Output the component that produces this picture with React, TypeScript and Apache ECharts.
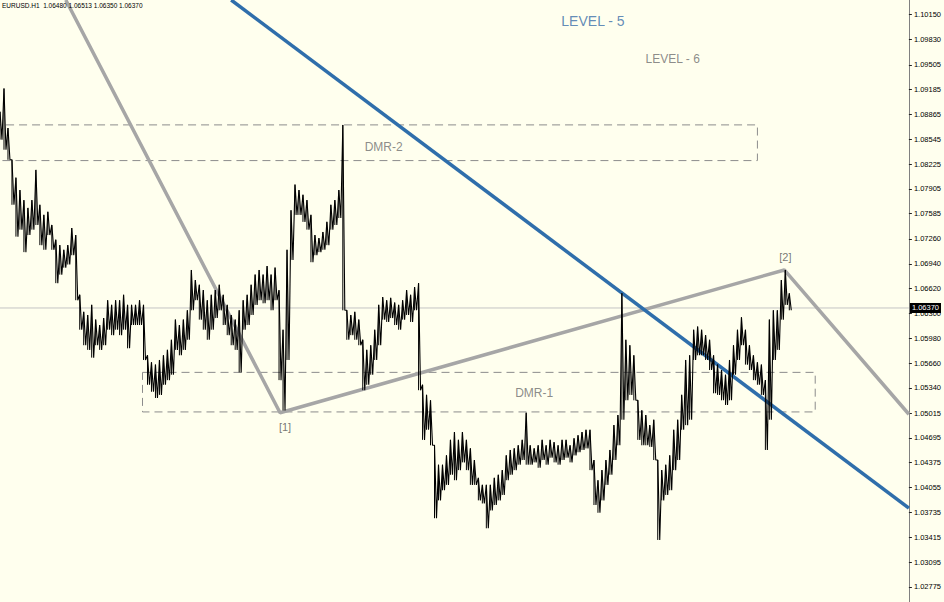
import React, { useEffect, useRef } from 'react';
import * as echarts from 'echarts';

// ---------- data ----------
const HEADER = 'EURUSD.H1  1.06480 1.06513 1.06350 1.06370';
const BAR_STEP = 4; // bar index step between sampled columns

const barHigh = [
  1.0890, 1.0920, 1.0869, 1.0828, 1.0805, 1.0789, 1.0776, 1.0766, 1.0776, 1.0815,
  1.0770, 1.0757, 1.0761, 1.0744, 1.0725, 1.0718, 1.0712, 1.0718, 1.0740, 1.0731,
  1.0654, 1.0632, 1.0628, 1.0641, 1.0622, 1.0615, 1.0624, 1.0647, 1.0641, 1.0647,
  1.0647, 1.0654, 1.0641, 1.0641, 1.0641, 1.0647, 1.0641, 1.0576, 1.0567, 1.0564,
  1.0570, 1.0576, 1.0583, 1.0596, 1.0622, 1.0615, 1.0622, 1.0634, 1.0686, 1.0673,
  1.0667, 1.0660, 1.0647, 1.0654, 1.0660, 1.0667, 1.0654, 1.0641, 1.0628, 1.0622,
  1.0634, 1.0647, 1.0654, 1.0667, 1.0680, 1.0686, 1.0680, 1.0691, 1.0680, 1.0689,
  1.0660, 1.0609, 1.0712, 1.0763, 1.0796, 1.0789, 1.0783, 1.0776, 1.0757, 1.0731,
  1.0727, 1.0735, 1.0748, 1.0770, 1.0776, 1.0789, 1.0873, 1.0634, 1.0628, 1.0632,
  1.0622, 1.0596, 1.0583, 1.0589, 1.0609, 1.0641, 1.0651, 1.0647, 1.0650, 1.0644,
  1.0641, 1.0647, 1.0660, 1.0654, 1.0664, 1.0669, 1.0538, 1.0525, 1.0518, 1.0460,
  1.0435, 1.0435, 1.0447, 1.0467, 1.0477, 1.0467, 1.0477, 1.0467, 1.0456, 1.0441,
  1.0418, 1.0409, 1.0409, 1.0409, 1.0418, 1.0422, 1.0428, 1.0447, 1.0454, 1.0456,
  1.0460, 1.0467, 1.0502, 1.0460, 1.0456, 1.0460, 1.0467, 1.0460, 1.0467, 1.0464,
  1.0460, 1.0467, 1.0467, 1.0460, 1.0469, 1.0473, 1.0477, 1.0480, 1.0480, 1.0441,
  1.0415, 1.0428, 1.0441, 1.0454, 1.0486, 1.0499, 1.0656, 1.0596, 1.0589, 1.0576,
  1.0518, 1.0505, 1.0499, 1.0486, 1.0493, 1.0441, 1.0428, 1.0435, 1.0447, 1.0480,
  1.0493, 1.0525, 1.0570, 1.0576, 1.0609, 1.0613, 1.0609, 1.0602, 1.0596, 1.0576,
  1.0564, 1.0557, 1.0551, 1.0570, 1.0589, 1.0609, 1.0625, 1.0609, 1.0589, 1.0576,
  1.0567, 1.0564, 1.0544, 1.0622, 1.0634, 1.0634, 1.0673, 1.0686, 1.0656,
];

const barLow = [
  1.0854, 1.0841, 1.0828, 1.0770, 1.0729, 1.0738, 1.0709, 1.0731, 1.0738, 1.0744,
  1.0718, 1.0712, 1.0731, 1.0712, 1.0669, 1.0680, 1.0689, 1.0693, 1.0705, 1.0647,
  1.0609, 1.0589, 1.0583, 1.0573, 1.0589, 1.0583, 1.0589, 1.0609, 1.0602, 1.0609,
  1.0602, 1.0609, 1.0585, 1.0615, 1.0615, 1.0615, 1.0570, 1.0538, 1.0529, 1.0521,
  1.0525, 1.0538, 1.0544, 1.0551, 1.0583, 1.0576, 1.0583, 1.0596, 1.0634, 1.0647,
  1.0622, 1.0609, 1.0596, 1.0609, 1.0624, 1.0634, 1.0615, 1.0602, 1.0589, 1.0583,
  1.0554, 1.0609, 1.0615, 1.0628, 1.0641, 1.0647, 1.0643, 1.0647, 1.0634, 1.0647,
  1.0544, 1.0505, 1.0570, 1.0699, 1.0757, 1.0757, 1.0748, 1.0738, 1.0696, 1.0705,
  1.0709, 1.0712, 1.0718, 1.0738, 1.0744, 1.0753, 1.0634, 1.0596, 1.0602, 1.0596,
  1.0589, 1.0531, 1.0538, 1.0551, 1.0570, 1.0589, 1.0622, 1.0619, 1.0624, 1.0615,
  1.0609, 1.0622, 1.0628, 1.0619, 1.0634, 1.0531, 1.0467, 1.0480, 1.0460, 1.0366,
  1.0389, 1.0402, 1.0409, 1.0422, 1.0415, 1.0428, 1.0438, 1.0428, 1.0409, 1.0409,
  1.0389, 1.0385, 1.0353, 1.0376, 1.0383, 1.0389, 1.0396, 1.0415, 1.0422, 1.0428,
  1.0435, 1.0441, 1.0435, 1.0435, 1.0438, 1.0431, 1.0441, 1.0435, 1.0444, 1.0438,
  1.0435, 1.0441, 1.0444, 1.0438, 1.0447, 1.0451, 1.0454, 1.0456, 1.0428, 1.0383,
  1.0373, 1.0389, 1.0409, 1.0422, 1.0441, 1.0460, 1.0493, 1.0518, 1.0525, 1.0518,
  1.0467, 1.0460, 1.0460, 1.0458, 1.0441, 1.0338, 1.0389, 1.0396, 1.0402, 1.0428,
  1.0441, 1.0480, 1.0486, 1.0493, 1.0570, 1.0576, 1.0576, 1.0570, 1.0557, 1.0527,
  1.0525, 1.0518, 1.0512, 1.0518, 1.0551, 1.0570, 1.0589, 1.0564, 1.0557, 1.0544,
  1.0538, 1.0525, 1.0454, 1.0493, 1.0570, 1.0583, 1.0622, 1.0641, 1.0634,
];

const priceTicks = [
  1.1015, 1.0983, 1.09505, 1.09185, 1.08865, 1.08545, 1.08225, 1.07905,
  1.07585, 1.0726, 1.0694, 1.0662, 1.063, 1.0598, 1.0566, 1.0534,
  1.05015, 1.04695, 1.04375, 1.04055, 1.03735, 1.03415, 1.03095, 1.02775,
];
const PRICE_MIN = 1.0258;
const PRICE_MAX = 1.1034;
const BAR_AXIS_MAX = 912;
const lastPrice = 1.0637;
const lastPriceText = '1.06370';

// trend lines: [bar index, price]
const grayWave = [[66, 1.1034], [281, 1.0502], [787, 1.0686], [912, 1.05]];
const blueTrend = [[232, 1.1034], [912, 1.0379]];
// zones: [bar from, bar to, top price, bottom price]
const dmr2Zone = [-20, 760, 1.0873, 1.0827];
const dmr1Zone = [143, 818, 1.0554, 1.0503];

const labelTexts = ['LEVEL - 5', 'LEVEL - 6', 'DMR-2', 'DMR-1', '[1]', '[2]'];
const labelBars = [595, 675, 385, 536, 286, 788];
const labelPrices = [1.1007, 1.0958, 1.0845, 1.0527, 1.0483, 1.0703];

// ---------- styles ----------
const labelColors = ['#3A6EA8', '#6E6E6E', '#6E6E6E', '#6E6E6E', '#555555', '#555555'];
const labelSizes = [14, 12, 12, 12, 11, 11];
const FONT = 'Liberation Sans, Arial, sans-serif';

export default function App() {
  const ref = useRef<HTMLDivElement>(null);

  useEffect(() => {
    if (!ref.current) return;
    const chart = echarts.init(ref.current, undefined, { renderer: 'svg' });

    // price trace: each sampled column drawn from its high down to its low
    const trace: number[][] = [];
    barHigh.forEach((h, i) => {
      const x = i * BAR_STEP;
      trace.push([x, h]);
      trace.push([x + BAR_STEP / 2, barLow[i]]);
    });
    const ranges = barHigh.map((h, i) => [i * BAR_STEP, barLow[i], h]);

    const zoneLine = (z: number[], closed: boolean) => {
      const pts = [
        [z[0], z[2]],
        [z[1], z[2]],
        [z[1], z[3]],
        [z[0], z[3]],
      ];
      if (closed) pts.push([z[0], z[2]]);
      return pts;
    };

    chart.setOption({
      animation: false,
      backgroundColor: '#FFFFEE',
      title: {
        text: HEADER,
        left: 2,
        top: 2,
        padding: 0,
        textStyle: { fontSize: 6.5, fontWeight: 'normal', color: '#000', fontFamily: FONT },
      },
      grid: { left: 0, top: 0, right: 32, bottom: 0, containLabel: false },
      xAxis: { type: 'value', min: 0, max: BAR_AXIS_MAX, show: false },
      yAxis: {
        type: 'value',
        position: 'right',
        min: PRICE_MIN,
        max: PRICE_MAX,
        axisLine: { show: true, onZero: false, lineStyle: { color: '#808080', width: 1 } },
        axisTick: { show: true, customValues: priceTicks, length: 3, lineStyle: { color: '#222' } },
        axisLabel: {
          customValues: priceTicks,
          formatter: (v: number) => v.toFixed(5),
          fontSize: 7.5,
          color: '#000',
          margin: 5,
          fontFamily: FONT,
        },
        splitLine: { show: false },
      },
      series: [
        {
          type: 'line',
          data: zoneLine(dmr2Zone, false),
          symbol: 'none',
          silent: true,
          z: 1,
          lineStyle: { color: '#8C8C8C', width: 1, type: [8, 5] },
        },
        {
          type: 'line',
          data: zoneLine(dmr1Zone, true),
          symbol: 'none',
          silent: true,
          z: 1,
          lineStyle: { color: '#8C8C8C', width: 1, type: [8, 5] },
        },
        {
          type: 'line',
          data: [[0, lastPrice], [BAR_AXIS_MAX, lastPrice]],
          symbol: 'none',
          silent: true,
          z: 1,
          lineStyle: { color: '#C4C4C4', width: 1 },
          endLabel: {
            show: true,
            formatter: lastPriceText,
            color: '#fff',
            backgroundColor: '#000',
            fontSize: 7.5,
            fontFamily: FONT,
            padding: [1, 2, 1, 2],
            distance: 1,
          },
        },
        {
          type: 'line',
          data: grayWave,
          symbol: 'none',
          silent: true,
          z: 2,
          lineStyle: { color: '#A6A6A6', width: 3.5 },
        },
        {
          type: 'line',
          data: blueTrend,
          symbol: 'none',
          silent: true,
          z: 2,
          lineStyle: { color: '#2F6EAB', width: 3.5 },
        },
        {
          type: 'custom',
          data: ranges,
          encode: { x: 0, y: [1, 2] },
          z: 3,
          silent: true,
          renderItem: (params: any, api: any) => {
            const x = api.value(0);
            const top = api.coord([x, api.value(2)]);
            const bot = api.coord([x, api.value(1)]);
            return {
              type: 'line',
              shape: { x1: top[0], y1: top[1], x2: top[0], y2: bot[1] },
              style: { stroke: '#000', lineWidth: 1 },
            };
          },
        },
        {
          type: 'line',
          data: trace,
          symbol: 'none',
          silent: true,
          z: 3,
          lineStyle: { color: '#000', width: 1.1 },
        },
        {
          type: 'scatter',
          silent: true,
          symbolSize: 1,
          itemStyle: { color: 'rgba(0,0,0,0)' },
          z: 4,
          data: labelTexts.map((t, i) => ({
            value: [labelBars[i], labelPrices[i]],
            label: {
              show: true,
              position: 'inside',
              formatter: t,
              color: labelColors[i],
              fontSize: labelSizes[i],
              fontFamily: FONT,
            },
          })),
        },
      ],
    });

    return () => chart.dispose();
  }, []);

  return (
    <div
      ref={ref}
      style={{ position: 'fixed', left: 0, top: 0, width: 944, height: 602, background: '#FFFFEE' }}
    />
  );
}
